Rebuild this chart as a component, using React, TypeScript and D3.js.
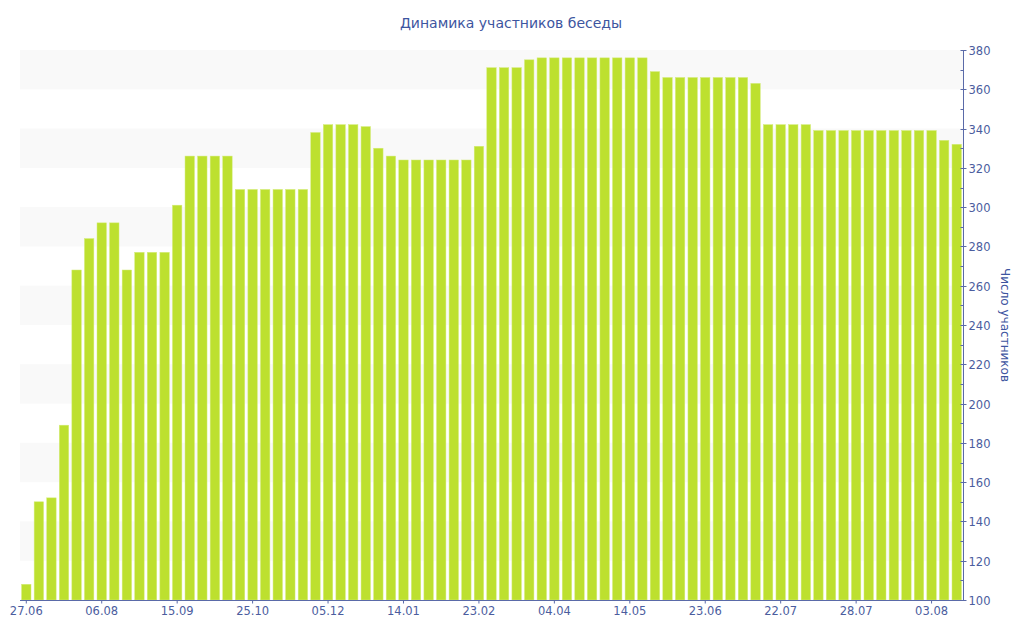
import React, { useEffect, useRef } from "react";
import * as d3 from "d3";

// --- Data
const members = [
  108, 150, 152, 189, 268, 284, 292, 292, 268, 277, 277, 277,
  301, 326, 326, 326, 326, 309, 309, 309, 309, 309, 309, 338,
  342, 342, 342, 341, 330, 326, 324, 324, 324, 324, 324, 324,
  331, 371, 371, 371, 375, 376, 376, 376, 376, 376, 376, 376,
  376, 376, 369, 366, 366, 366, 366, 366, 366, 366, 363, 342,
  342, 342, 342, 339, 339, 339, 339, 339, 339, 339, 339, 339,
  339, 334, 332,
];
// one label every 6th bar
const tickLabels = [
  "27.06", "06.08", "15.09", "25.10", "05.12", "14.01", "23.02",
  "04.04", "14.05", "23.06", "22.07", "28.07", "03.08",
];
const yTicks = [100, 120, 140, 160, 180, 200, 220, 240, 260, 280, 300, 320, 340, 360, 380];
const bandStarts = [120, 160, 200, 240, 280, 320, 360];

const title = "Динамика участников беседы";
const yTitle = "Число участников";

const App: React.FC = () => {
  const ref = useRef<SVGSVGElement | null>(null);

  useEffect(() => {
    if (!ref.current) return;
    const width = 1024;
    const height = 640;
    const margin = { top: 50, right: 61, bottom: 40, left: 20 };
    const font = "'DejaVu Sans', Verdana, sans-serif";
    const axisColor = "#5a6aa8";
    const textColor = "#4b5d9e";

    const svg = d3.select(ref.current);
    svg.selectAll("*").remove();
    svg.attr("width", width).attr("height", height);

    const x = d3
      .scaleBand<number>()
      .domain(members.map((_, i) => i))
      .range([margin.left, width - margin.right])
      .paddingInner(0.25)
      .paddingOuter(0.125);

    const y = d3
      .scaleLinear()
      .domain([100, 380])
      .range([height - margin.bottom, margin.top]);

    // background bands
    svg
      .append("g")
      .selectAll("rect")
      .data(bandStarts)
      .join("rect")
      .attr("x", margin.left)
      .attr("width", width - margin.right - margin.left)
      .attr("y", (d) => y(d + 20))
      .attr("height", (d) => y(d) - y(d + 20))
      .attr("fill", "#f9f9f9");

    // bars
    svg
      .append("g")
      .selectAll("rect")
      .data(members)
      .join("rect")
      .attr("x", (_, i) => x(i)!)
      .attr("width", x.bandwidth())
      .attr("y", (d) => y(d))
      .attr("height", (d) => y(100) - y(d))
      .attr("fill", "#bde02f")
      .attr("stroke", "#d4ec7a")
      .attr("stroke-width", 0.5);

    // right axis
    const yAxisX = width - margin.right + 0.5;
    const yAxis = svg.append("g").attr("transform", `translate(${yAxisX},0)`);
    yAxis
      .append("line")
      .attr("y1", y(380))
      .attr("y2", y(100))
      .attr("stroke", axisColor);
    // minor ticks every 10
    yAxis
      .selectAll(".minor")
      .data(d3.range(110, 380, 20))
      .join("line")
      .attr("class", "minor")
      .attr("x1", -3)
      .attr("x2", 0)
      .attr("y1", (d) => Math.round(y(d)) + 0.5)
      .attr("y2", (d) => Math.round(y(d)) + 0.5)
      .attr("stroke", axisColor);
    const major = yAxis
      .selectAll(".major")
      .data(yTicks)
      .join("g")
      .attr("class", "major")
      .attr("transform", (d) => `translate(0,${Math.round(y(d)) + 0.5})`);
    major.append("line").attr("x1", -3).attr("x2", 3).attr("stroke", axisColor);
    major
      .append("text")
      .attr("x", 5)
      .attr("dy", "0.36em")
      .style("font-family", font)
      .style("font-size", "11.5px")
      .style("fill", textColor)
      .text((d) => d);

    // bottom axis
    const baseY = Math.round(y(100)) + 0.5;
    svg
      .append("line")
      .attr("x1", margin.left)
      .attr("x2", yAxisX)
      .attr("y1", baseY)
      .attr("y2", baseY)
      .attr("stroke", axisColor);
    const xt = svg
      .append("g")
      .selectAll("g")
      .data(tickLabels)
      .join("g")
      .attr("transform", (_, k) => `translate(${x(k * 6)! + x.bandwidth() / 2},${baseY})`);
    xt.append("line").attr("y1", 0).attr("y2", 3).attr("stroke", axisColor);
    xt.append("text")
      .attr("y", 14)
      .attr("text-anchor", "middle")
      .style("font-family", font)
      .style("font-size", "11.5px")
      .style("fill", textColor)
      .text((d) => d);

    // title
    svg
      .append("text")
      .attr("x", 511)
      .attr("y", 28)
      .attr("text-anchor", "middle")
      .style("font-family", font)
      .style("font-size", "14px")
      .style("fill", "#3d55a0")
      .text(title);

    // y title (rotated, reading downward)
    svg
      .append("text")
      .attr("transform", `translate(1001,${(y(100) + y(380)) / 2}) rotate(90)`)
      .attr("text-anchor", "middle")
      .style("font-family", font)
      .style("font-size", "12px")
      .style("fill", "#3d55a0")
      .text(yTitle);

    return () => {
      svg.selectAll("*").remove();
    };
  }, []);

  return (
    <svg
      ref={ref}
      style={{ position: "absolute", left: 0, top: 0, display: "block", background: "#fff" }}
    ></svg>
  );
};

export default App;
